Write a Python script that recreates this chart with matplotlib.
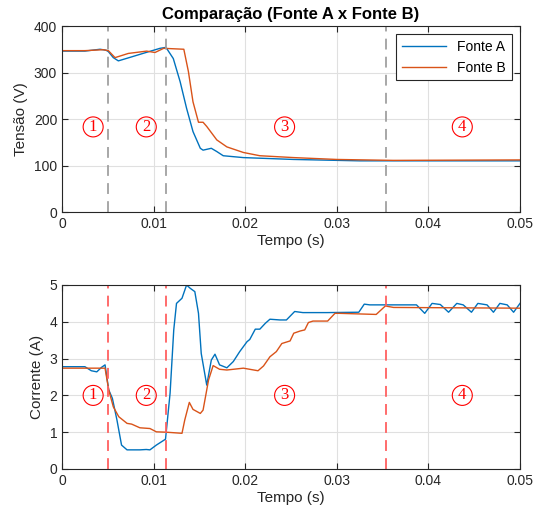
import matplotlib
matplotlib.use("Agg")
import matplotlib.pyplot as plt

# ---- Data ----
tA_v = [0, 0.0025, 0.00415, 0.0048, 0.00506, 0.0056, 0.00615, 0.0075, 0.009, 0.0107, 0.01135,
        0.01215, 0.0129, 0.0136, 0.0143, 0.0151, 0.0154, 0.0163, 0.0169, 0.0176, 0.0198,
        0.0253, 0.0325, 0.04, 0.05]
vA = [346, 346, 350, 348, 345, 332, 325, 333, 342, 352, 354,
      330, 280, 223, 173, 137, 133, 137, 130, 121, 117,
      113, 110, 110, 110]

tB_v = [0, 0.0025, 0.0045, 0.00506, 0.00579, 0.00724, 0.00924, 0.01015, 0.0111, 0.0133,
        0.0138, 0.0143, 0.0149, 0.0154, 0.0158, 0.0169, 0.018, 0.0198, 0.0216, 0.0253,
        0.030, 0.0362, 0.05]
vB = [347, 347, 349, 347, 332, 341, 346, 343, 352, 350,
      302, 237, 193, 193, 184, 155, 140, 128, 121, 117,
      113, 111, 112]

tA_i = [0, 0.0025, 0.0032, 0.0038, 0.0043, 0.0047, 0.0051, 0.0055, 0.006, 0.0065, 0.0071,
        0.0085, 0.0092, 0.0096, 0.0103, 0.0113, 0.0118, 0.0122, 0.0125, 0.0131, 0.0136,
        0.014, 0.0145, 0.0149, 0.0152, 0.0158, 0.0163, 0.0167, 0.0172, 0.018, 0.0187,
        0.0194, 0.0202, 0.0205, 0.0211, 0.0216, 0.0222, 0.0227, 0.0238, 0.0245, 0.0254,
        0.0263, 0.0289, 0.0324, 0.033, 0.0336, 0.0387, 0.0396, 0.0404, 0.0413, 0.0422,
        0.0431, 0.0438, 0.0447, 0.0454, 0.0464, 0.0471, 0.0478, 0.0486, 0.0493, 0.05]
iA = [2.78, 2.78, 2.67, 2.64, 2.76, 2.83, 2.15, 1.92, 1.33, 0.65, 0.52,
      0.52, 0.53, 0.52, 0.65, 0.81, 2.06, 3.78, 4.5, 4.64, 5.0,
      4.91, 4.82, 4.23, 3.14, 2.28, 2.96, 3.12, 2.83, 2.75, 2.92,
      3.19, 3.46, 3.52, 3.8, 3.8, 3.96, 4.07, 4.05, 4.05, 4.28,
      4.25, 4.25, 4.26, 4.48, 4.46, 4.46, 4.23, 4.5, 4.47, 4.26,
      4.5, 4.46, 4.26, 4.5, 4.46, 4.26, 4.5, 4.46, 4.26, 4.5]

tB_i = [0, 0.0047, 0.0051, 0.0056, 0.0062, 0.0071, 0.0076, 0.0085, 0.0096, 0.0103, 0.0114,
        0.0131, 0.0134, 0.0139, 0.0143, 0.0151, 0.0154, 0.016, 0.0165, 0.0172, 0.018,
        0.0198, 0.0214, 0.022, 0.0227, 0.0234, 0.024, 0.0249, 0.0253, 0.026, 0.0265,
        0.0269, 0.0274, 0.029, 0.0298, 0.0303, 0.0343, 0.0353, 0.0362, 0.05]
iB = [2.74, 2.74, 2.15, 1.69, 1.42, 1.24, 1.22, 1.12, 1.10, 1.01, 1.0,
      0.97, 1.33, 1.81, 1.62, 1.51, 1.6, 2.42, 2.81, 2.71, 2.69,
      2.74, 2.67, 2.8, 3.05, 3.19, 3.41, 3.48, 3.69, 3.75, 3.78,
      3.98, 4.02, 4.02, 4.23, 4.23, 4.2, 4.43, 4.39, 4.37]

region_lines = [0.005, 0.01135, 0.0354]
region_labels = ["1", "2", "3", "4"]
region_label_x = [0.0034, 0.0092, 0.0243, 0.0437]

x_ticks = [0, 0.01, 0.02, 0.03, 0.04, 0.05]
x_tick_labels = ["0", "0.01", "0.02", "0.03", "0.04", "0.05"]
v_ticks = [0, 100, 200, 300, 400]
i_ticks = [0, 1, 2, 3, 4, 5]

colA = "#0072BD"
colB = "#D95319"

plt.rcParams['font.family'] = ['Liberation Sans', 'DejaVu Sans']

fig = plt.figure(figsize=(5.35, 5.18), dpi=100)
ax1 = fig.add_axes([62/535, 1-212/518, 458/535, 186/518])
ax2 = fig.add_axes([62/535, 1-469/518, 458/535, 184/518])

def style(ax):
    ax.grid(True, color="#e0e0e0", linewidth=0.8)
    ax.set_axisbelow(True)
    ax.tick_params(direction="in", length=4, colors="#262626", labelsize=10,
                   top=True, right=True)
    for s in ax.spines.values():
        s.set_color("#262626")
        s.set_linewidth(0.8)
    ax.set_xlim(0, 0.05)
    ax.set_xticks(x_ticks)
    ax.set_xticklabels(x_tick_labels)
    ax.set_xlabel("Tempo (s)", fontsize=11, color="#262626", labelpad=2)

def circled(ax, x, y, s):
    ax.text(x, y, s, color="red", fontsize=12, ha="center", va="center",
            family="Liberation Serif",
            bbox=dict(boxstyle="circle,pad=0.12", fc="none", ec="red", lw=0.8))

# Top
ax1.plot(tA_v, vA, color=colA, lw=1.0, label="Fonte A")
ax1.plot(tB_v, vB, color=colB, lw=1.0, label="Fonte B")
for xv in region_lines:
    ax1.axvline(xv, color="#a0a0a0", ls=(0, (6, 4)), lw=1.3)
for lx, lab in zip(region_label_x, region_labels):
    circled(ax1, lx, 183, lab)
ax1.set_ylim(0, 400)
ax1.set_yticks(v_ticks)
style(ax1)
ax1.set_ylabel("Tensão (V)", fontsize=11, color="#262626")
ax1.set_title("Comparação (Fonte A x Fonte B)", fontsize=12, fontweight="bold", pad=5)
leg = ax1.legend(loc="upper right", fancybox=False, framealpha=1, edgecolor="#262626",
                 fontsize=10, borderaxespad=0.6, handlelength=3.2)
leg.get_frame().set_linewidth(0.8)

# Bottom
ax2.plot(tA_i, iA, color=colA, lw=1.0)
ax2.plot(tB_i, iB, color=colB, lw=1.0)
for xv in region_lines:
    ax2.axvline(xv, color="#ff6060", ls=(0, (6, 4)), lw=1.3)
for lx, lab in zip(region_label_x, region_labels):
    circled(ax2, lx, 2.0, lab)
ax2.set_ylim(0, 5)
ax2.set_yticks(i_ticks)
style(ax2)
ax2.set_ylabel("Corrente (A)", fontsize=11, color="#262626")

fig.savefig("out.png", dpi=100)
